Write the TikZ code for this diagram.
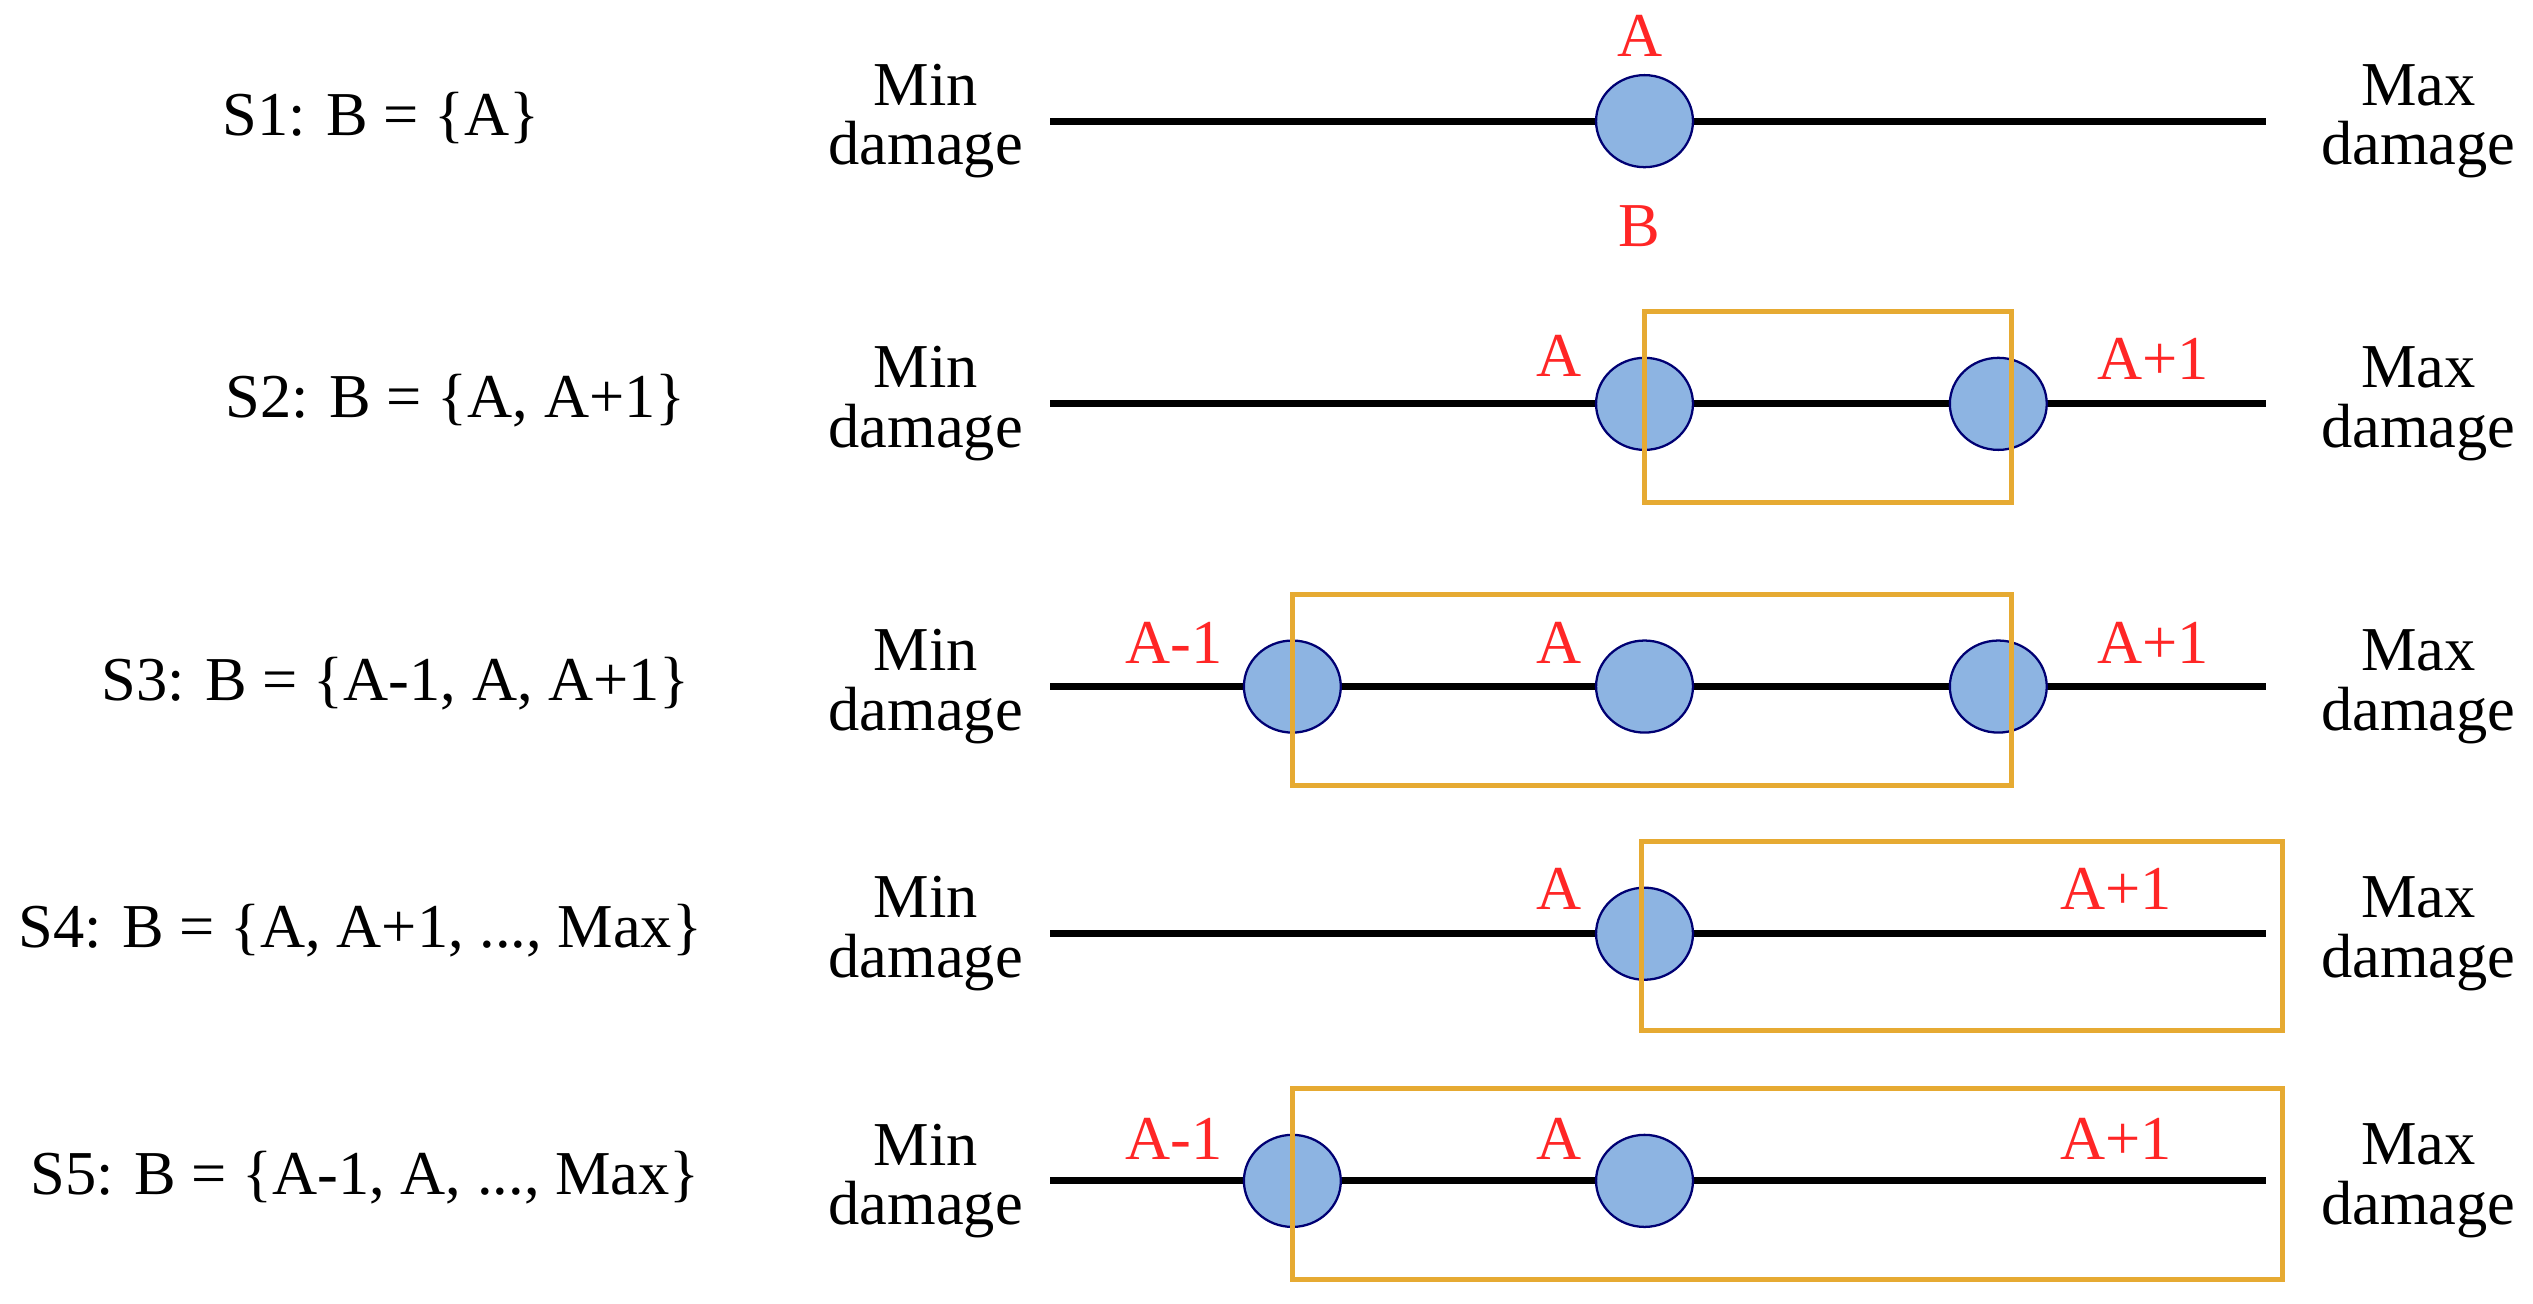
\documentclass[tikz,border=0pt]{standalone}
\usepackage{fontspec}
\setmainfont{Liberation Serif}
\usetikzlibrary{shapes.geometric}
\begin{document}
\begin{tikzpicture}[x=0.02cm,y=-0.02cm,
  ln/.style={line width=2.4pt,black},
  dot/.style={ellipse,draw=blue!45!black,line width=0.8pt,fill={rgb,255:red,141;green,180;blue,226},minimum width=1.2cm,minimum height=1.14cm,inner sep=0},
  lab/.style={text=red!85!white,font=\fontsize{22}{24}\selectfont},
  txt/.style={font=\fontsize{22}{21}\selectfont,align=center},
  box/.style={draw={rgb,255:red,230;green,170;blue,50},line width=1.8pt}]
\useasboundingbox (0,0) rectangle (1568,807);
\foreach \y [count=\i] in {75,250,425,578,731}{
  \coordinate (l\i) at (650,\y); \coordinate (r\i) at (1403,\y);
  \draw[ln] (l\i) -- (r\i);
  \node[txt] (mn\i) at (573,\y) {Min\\damage};
  \node[txt] (mx\i) at (1497,\y) {Max\\damage};
}
\node[txt] (s1) at (236,73) {S1: B = \{A\}};
\node[txt] (s2) at (282,248) {S2: B = \{A, A+1\}};
\node[txt] (s3) at (245,423) {S3: B = \{A-1, A, A+1\}};
\node[txt] (s4) at (223,576) {S4: B = \{A, A+1, ..., Max\}};
\node[txt] (s5) at (226,729) {S5: B = \{A-1, A, ..., Max\}};
% dots
\node[dot] (d1a) at (1018,75) {};
\node[dot] (d2a) at (1018,250) {};
\node[dot] (d2b) at (1237,250) {};
\node[dot] (d3m) at (800,425) {};
\node[dot] (d3a) at (1018,425) {};
\node[dot] (d3b) at (1237,425) {};
\node[dot] (d4a) at (1018,578) {};
\node[dot] (d5m) at (800,731) {};
\node[dot] (d5a) at (1018,731) {};
% boxes
\draw[box] (1018,193) rectangle (1245,311);
\draw[box] (800,368) rectangle (1245,486);
\draw[box] (1016,521) rectangle (1413,638);
\draw[box] (800,674) rectangle (1413,792);
% red labels
\node[lab] (t1) at (1015,22) {A};
\node[lab] (t2) at (1015,140) {B};
\node[lab] (t3) at (965,220) {A};
\node[lab] (t4) at (1333,222) {A+1};
\node[lab] (t5) at (727,398) {A-1};
\node[lab] (t6) at (965,398) {A};
\node[lab] (t7) at (1333,398) {A+1};
\node[lab] (t8) at (965,550) {A};
\node[lab] (t9) at (1310,550) {A+1};
\node[lab] (t10) at (727,705) {A-1};
\node[lab] (t11) at (965,705) {A};
\node[lab] (t12) at (1310,705) {A+1};
\end{tikzpicture}
\end{document}
